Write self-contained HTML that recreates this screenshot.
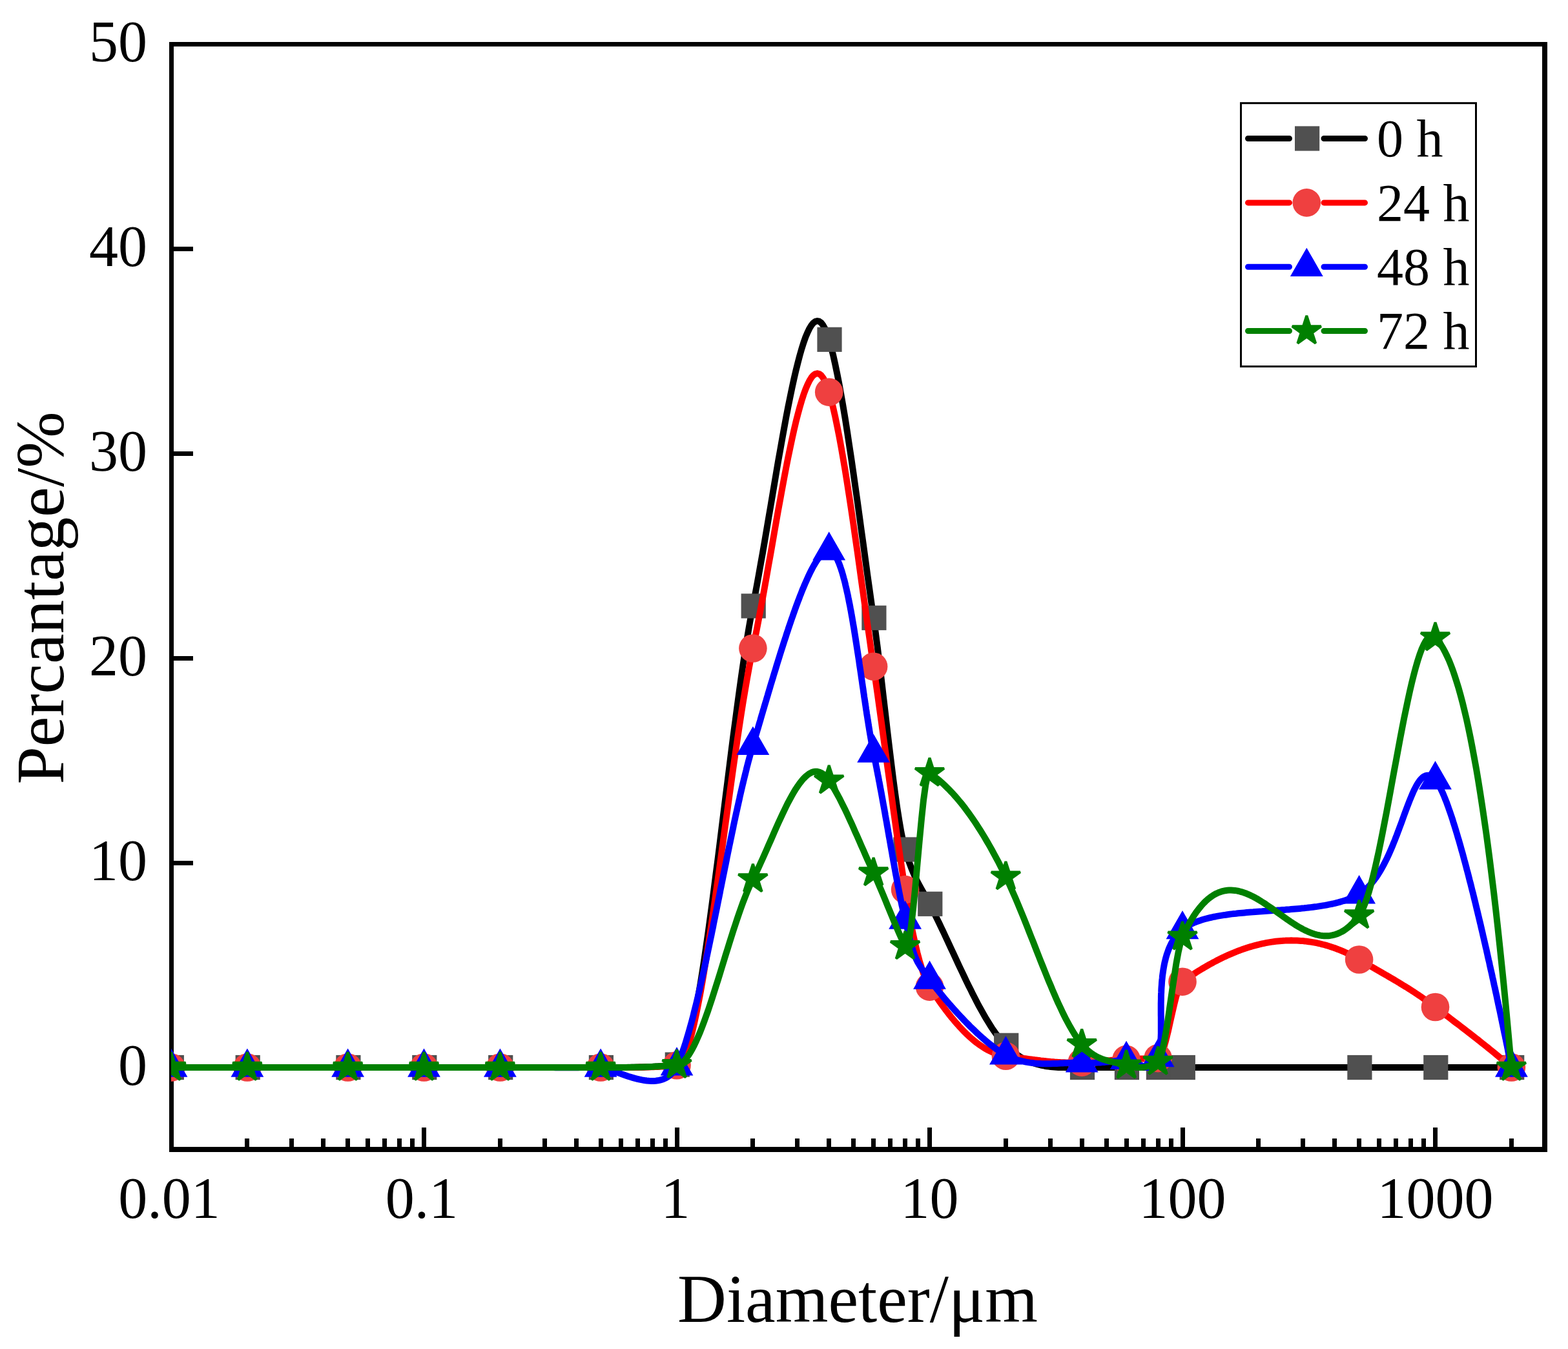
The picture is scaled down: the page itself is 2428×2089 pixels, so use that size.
<!DOCTYPE html>
<html><head><meta charset="utf-8"><title>Particle size distribution</title>
<style>
html,body{margin:0;padding:0;background:#fff;}
svg{display:block;}
text{font-family:"Liberation Serif","Times New Roman",serif;fill:#000;}
</style></head><body>
<svg width="2428" height="2089" viewBox="0 0 2428 2089">
<rect width="2428" height="2089" fill="#fff"/>
<defs><clipPath id="pa"><rect x="265" y="68.5" width="2127.0" height="1711.4"/></clipPath></defs>

<path d="M265.5 1336.1H299 M265.5 1019.2H299 M265.5 702.3H299 M265.5 385.4H299 M656.5 1779.9V1746 M1048.0 1779.9V1746 M1439.5 1779.9V1746 M1831.0 1779.9V1746 M2222.5 1779.9V1746 M382.9 1779.9V1763 M451.8 1779.9V1763 M500.7 1779.9V1763 M538.6 1779.9V1763 M569.6 1779.9V1763 M595.9 1779.9V1763 M618.6 1779.9V1763 M638.6 1779.9V1763 M774.4 1779.9V1763 M843.3 1779.9V1763 M892.2 1779.9V1763 M930.1 1779.9V1763 M961.1 1779.9V1763 M987.4 1779.9V1763 M1010.1 1779.9V1763 M1030.1 1779.9V1763 M1165.9 1779.9V1763 M1234.8 1779.9V1763 M1283.7 1779.9V1763 M1321.6 1779.9V1763 M1352.6 1779.9V1763 M1378.9 1779.9V1763 M1401.6 1779.9V1763 M1421.6 1779.9V1763 M1557.4 1779.9V1763 M1626.3 1779.9V1763 M1675.2 1779.9V1763 M1713.1 1779.9V1763 M1744.1 1779.9V1763 M1770.4 1779.9V1763 M1793.1 1779.9V1763 M1813.1 1779.9V1763 M1948.9 1779.9V1763 M2017.8 1779.9V1763 M2066.7 1779.9V1763 M2104.6 1779.9V1763 M2135.6 1779.9V1763 M2161.9 1779.9V1763 M2184.6 1779.9V1763 M2204.6 1779.9V1763 M2340.4 1779.9V1763" stroke="#000" stroke-width="7" fill="none" shape-rendering="crispEdges"/>
<path d="M262 65H2396V72H262ZM262 1776H2396V1784H262ZM262 65H269V1784H262ZM2388 65H2396V1784H2388Z" fill="#000" shape-rendering="crispEdges"/>
<g clip-path="url(#pa)">
<path d="M265.0 1653.0 L268.0 1653.0 271.0 1653.0 274.1 1653.0 277.1 1653.0 280.1 1653.0 283.1 1653.0 286.2 1653.0 289.2 1653.0 292.2 1653.0 295.2 1653.0 298.2 1653.0 301.3 1653.0 304.3 1653.0 307.3 1653.0 310.3 1653.0 313.4 1653.0 316.4 1653.0 319.4 1653.0 322.4 1653.0 325.4 1653.0 328.5 1653.0 331.5 1653.0 334.5 1653.0 337.5 1653.0 340.5 1653.0 343.6 1653.0 346.6 1653.0 349.6 1653.0 352.6 1653.0 355.7 1653.0 358.7 1653.0 361.7 1653.0 364.7 1653.0 367.7 1653.0 370.8 1653.0 373.8 1653.0 376.8 1653.0 379.8 1653.0 382.9 1653.0 385.9 1653.0 389.0 1653.0 392.0 1653.0 395.1 1653.0 398.1 1653.0 401.2 1653.0 404.2 1653.0 407.3 1653.0 410.3 1653.0 413.4 1653.0 416.5 1653.0 419.5 1653.0 422.6 1653.0 425.6 1653.0 428.7 1653.0 431.7 1653.0 434.8 1653.0 437.8 1653.0 440.9 1653.0 443.9 1653.0 447.0 1653.0 450.1 1653.0 453.1 1653.0 456.2 1653.0 459.2 1653.0 462.3 1653.0 465.3 1653.0 468.4 1653.0 471.4 1653.0 474.5 1653.0 477.6 1653.0 480.6 1653.0 483.7 1653.0 486.7 1653.0 489.8 1653.0 492.8 1653.0 495.9 1653.0 498.9 1653.0 502.0 1653.0 505.0 1653.0 508.1 1653.0 511.2 1653.0 514.2 1653.0 517.3 1653.0 520.3 1653.0 523.4 1653.0 526.4 1653.0 529.5 1653.0 532.5 1653.0 535.6 1653.0 538.6 1653.0 541.7 1653.0 544.7 1653.0 547.7 1653.0 550.7 1653.0 553.8 1653.0 556.8 1653.0 559.8 1653.0 562.8 1653.0 565.8 1653.0 568.9 1653.0 571.9 1653.0 574.9 1653.0 577.9 1653.0 581.0 1653.0 584.0 1653.0 587.0 1653.0 590.0 1653.0 593.0 1653.0 596.1 1653.0 599.1 1653.0 602.1 1653.0 605.1 1653.0 608.1 1653.0 611.2 1653.0 614.2 1653.0 617.2 1653.0 620.2 1653.0 623.3 1653.0 626.3 1653.0 629.3 1653.0 632.3 1653.0 635.3 1653.0 638.4 1653.0 641.4 1653.0 644.4 1653.0 647.4 1653.0 650.5 1653.0 653.5 1653.0 656.5 1653.0 659.5 1653.0 662.5 1653.0 665.6 1653.0 668.6 1653.0 671.6 1653.0 674.6 1653.0 677.7 1653.0 680.7 1653.0 683.7 1653.0 686.7 1653.0 689.7 1653.0 692.8 1653.0 695.8 1653.0 698.8 1653.0 701.8 1653.0 704.9 1653.0 707.9 1653.0 710.9 1653.0 713.9 1653.0 716.9 1653.0 720.0 1653.0 723.0 1653.0 726.0 1653.0 729.0 1653.0 732.0 1653.0 735.1 1653.0 738.1 1653.0 741.1 1653.0 744.1 1653.0 747.2 1653.0 750.2 1653.0 753.2 1653.0 756.2 1653.0 759.2 1653.0 762.3 1653.0 765.3 1653.0 768.3 1653.0 771.3 1653.0 774.4 1653.0 777.4 1653.0 780.5 1653.0 783.5 1653.0 786.6 1653.0 789.6 1653.0 792.7 1653.0 795.7 1653.0 798.8 1653.0 801.8 1653.0 804.9 1653.0 808.0 1653.0 811.0 1653.0 814.1 1653.0 817.1 1653.0 820.2 1653.0 823.2 1653.0 826.3 1653.0 829.3 1653.0 832.4 1653.0 835.4 1653.0 838.5 1653.0 841.6 1653.0 844.6 1653.0 847.7 1653.0 850.7 1653.0 853.8 1653.0 856.8 1653.0 859.9 1653.0 862.9 1653.0 866.0 1653.0 869.1 1653.0 872.1 1653.0 875.2 1653.0 878.2 1653.0 881.3 1653.0 884.3 1653.0 887.4 1653.0 890.4 1653.0 893.5 1653.0 896.5 1653.0 899.6 1653.0 902.7 1653.0 905.7 1653.0 908.8 1653.0 911.8 1653.0 914.9 1653.0 917.9 1653.0 921.0 1653.0 924.0 1653.0 927.1 1653.0 930.1 1653.0 933.2 1653.0 936.2 1653.0 939.2 1653.0 942.2 1653.0 945.3 1653.0 948.3 1653.0 951.3 1653.0 954.3 1653.0 957.3 1653.0 960.4 1653.0 963.4 1653.0 966.4 1653.0 969.4 1652.9 972.5 1652.9 975.5 1652.9 978.5 1652.8 981.5 1652.8 984.5 1652.7 987.6 1652.7 990.6 1652.6 993.6 1652.5 996.6 1652.4 999.6 1652.3 1002.7 1652.2 1005.7 1652.1 1008.7 1651.9 1011.7 1651.7 1014.8 1651.6 1017.8 1651.4 1020.8 1651.2 1023.8 1651.0 1026.8 1650.7 1029.9 1650.5 1032.9 1650.2 1035.9 1649.9 1038.9 1649.6 1042.0 1649.3 1045.0 1648.9 1048.0 1648.6 1051.0 1647.2 1054.0 1644.0 1057.1 1638.9 1060.1 1632.1 1063.1 1623.6 1066.1 1613.6 1069.2 1602.1 1072.2 1589.2 1075.2 1575.0 1078.2 1559.5 1081.2 1542.9 1084.3 1525.2 1087.3 1506.5 1090.3 1486.9 1093.3 1466.4 1096.4 1445.2 1099.4 1423.3 1102.4 1400.9 1105.4 1377.9 1108.4 1354.5 1111.5 1330.8 1114.5 1306.8 1117.5 1282.6 1120.5 1258.3 1123.5 1234.1 1126.6 1209.9 1129.6 1185.8 1132.6 1162.0 1135.6 1138.4 1138.7 1115.3 1141.7 1092.7 1144.7 1070.6 1147.7 1049.1 1150.7 1028.4 1153.8 1008.4 1156.8 989.4 1159.8 971.3 1162.8 954.3 1165.9 938.4 1168.9 922.8 1171.9 906.7 1174.9 890.2 1177.9 873.2 1181.0 856.0 1184.0 838.5 1187.0 820.8 1190.0 803.0 1193.1 785.0 1196.1 767.1 1199.1 749.3 1202.1 731.5 1205.1 713.9 1208.2 696.6 1211.2 679.6 1214.2 663.0 1217.2 646.7 1220.2 631.0 1223.3 615.8 1226.3 601.3 1229.3 587.4 1232.3 574.3 1235.4 562.0 1238.4 550.5 1241.4 540.0 1244.4 530.5 1247.4 522.0 1250.5 514.7 1253.5 508.5 1256.5 503.6 1259.5 500.0 1262.6 497.8 1265.6 497.0 1268.6 497.7 1271.6 499.9 1274.6 503.8 1277.7 509.4 1280.7 516.7 1283.7 525.8 1286.8 536.9 1290.0 549.4 1293.1 563.3 1296.2 578.3 1299.4 594.4 1302.5 611.6 1305.6 629.7 1308.8 648.7 1311.9 668.4 1315.0 688.9 1318.2 709.9 1321.3 731.5 1324.4 753.5 1327.6 775.9 1330.7 798.5 1333.8 821.3 1337.0 844.1 1340.1 867.0 1343.2 889.8 1346.4 912.4 1349.5 934.8 1352.6 956.8 1355.7 978.9 1358.8 1002.4 1361.8 1027.1 1364.9 1052.7 1367.9 1078.8 1371.0 1105.1 1374.0 1131.3 1377.1 1157.3 1380.2 1182.5 1383.2 1206.8 1386.3 1229.8 1389.3 1251.3 1392.4 1270.9 1395.4 1288.3 1398.5 1303.3 1401.6 1315.5 1404.7 1326.0 1407.9 1335.4 1411.0 1343.9 1414.2 1351.6 1417.4 1358.6 1420.5 1365.1 1423.7 1371.1 1426.9 1376.9 1430.0 1382.5 1433.2 1388.1 1436.3 1393.8 1439.5 1399.8 1442.5 1405.7 1445.5 1411.7 1448.6 1417.9 1451.6 1424.1 1454.6 1430.3 1457.6 1436.7 1460.7 1443.0 1463.7 1449.5 1466.7 1455.9 1469.7 1462.4 1472.7 1468.9 1475.8 1475.4 1478.8 1481.9 1481.8 1488.4 1484.8 1494.8 1487.9 1501.3 1490.9 1507.7 1493.9 1514.0 1496.9 1520.3 1499.9 1526.5 1503.0 1532.6 1506.0 1538.7 1509.0 1544.6 1512.0 1550.4 1515.0 1556.2 1518.1 1561.7 1521.1 1567.2 1524.1 1572.5 1527.1 1577.7 1530.2 1582.7 1533.2 1587.5 1536.2 1592.2 1539.2 1596.6 1542.2 1600.9 1545.3 1604.9 1548.3 1608.7 1551.3 1612.3 1554.3 1615.7 1557.4 1618.8 1560.4 1621.7 1563.4 1624.4 1566.4 1627.0 1569.4 1629.4 1572.5 1631.6 1575.5 1633.8 1578.5 1635.7 1581.5 1637.6 1584.6 1639.3 1587.6 1640.9 1590.6 1642.3 1593.6 1643.6 1596.6 1644.9 1599.7 1646.0 1602.7 1647.0 1605.7 1647.9 1608.7 1648.7 1611.7 1649.5 1614.8 1650.1 1617.8 1650.7 1620.8 1651.2 1623.8 1651.6 1626.9 1652.0 1629.9 1652.3 1632.9 1652.5 1635.9 1652.7 1638.9 1652.9 1642.0 1653.0 1645.0 1653.1 1648.0 1653.1 1651.0 1653.2 1654.1 1653.2 1657.1 1653.1 1660.1 1653.1 1663.1 1653.1 1666.1 1653.1 1669.2 1653.0 1672.2 1653.0 1675.2 1653.0 1678.3 1653.0 1681.5 1653.0 1684.6 1653.0 1687.7 1653.0 1690.9 1653.0 1694.0 1653.0 1697.1 1653.0 1700.3 1653.0 1703.4 1653.0 1706.5 1653.0 1709.7 1653.0 1712.8 1653.0 1715.9 1653.0 1719.1 1653.0 1722.2 1653.0 1725.3 1653.0 1728.5 1653.0 1731.6 1653.0 1734.7 1653.0 1737.9 1653.0 1741.0 1653.0 1744.1 1653.0 1747.2 1653.0 1750.3 1653.0 1753.3 1653.0 1756.4 1653.0 1759.4 1653.0 1762.5 1653.0 1765.5 1653.0 1768.6 1653.0 1771.7 1653.0 1774.7 1653.0 1777.8 1653.0 1780.8 1653.0 1783.9 1653.0 1786.9 1653.0 1790.0 1653.0 1793.1 1653.0 1796.2 1653.0 1799.4 1653.0 1802.5 1653.0 1805.7 1653.0 1808.9 1653.0 1812.0 1653.0 1815.2 1653.0 1818.4 1653.0 1821.5 1653.0 1824.7 1653.0 1827.8 1653.0 1831.0 1653.0 1834.0 1653.0 1837.0 1653.0 1840.0 1653.0 1843.0 1653.0 1846.0 1653.0 1849.0 1653.0 1852.0 1653.0 1855.1 1653.0 1858.1 1653.0 1861.1 1653.0 1864.1 1653.0 1867.1 1653.0 1870.1 1653.0 1873.1 1653.0 1876.1 1653.0 1879.1 1653.0 1882.1 1653.0 1885.1 1653.0 1888.1 1653.0 1891.1 1653.0 1894.1 1653.0 1897.2 1653.0 1900.2 1653.0 1903.2 1653.0 1906.2 1653.0 1909.2 1653.0 1912.2 1653.0 1915.2 1653.0 1918.2 1653.0 1921.2 1653.0 1924.2 1653.0 1927.2 1653.0 1930.2 1653.0 1933.2 1653.0 1936.2 1653.0 1939.3 1653.0 1942.3 1653.0 1945.3 1653.0 1948.3 1653.0 1951.3 1653.0 1954.3 1653.0 1957.3 1653.0 1960.3 1653.0 1963.3 1653.0 1966.3 1653.0 1969.3 1653.0 1972.3 1653.0 1975.3 1653.0 1978.3 1653.0 1981.4 1653.0 1984.4 1653.0 1987.4 1653.0 1990.4 1653.0 1993.4 1653.0 1996.4 1653.0 1999.4 1653.0 2002.4 1653.0 2005.4 1653.0 2008.4 1653.0 2011.4 1653.0 2014.4 1653.0 2017.4 1653.0 2020.4 1653.0 2023.5 1653.0 2026.5 1653.0 2029.5 1653.0 2032.5 1653.0 2035.5 1653.0 2038.5 1653.0 2041.5 1653.0 2044.5 1653.0 2047.5 1653.0 2050.5 1653.0 2053.5 1653.0 2056.5 1653.0 2059.5 1653.0 2062.5 1653.0 2065.6 1653.0 2068.6 1653.0 2071.6 1653.0 2074.6 1653.0 2077.6 1653.0 2080.6 1653.0 2083.6 1653.0 2086.6 1653.0 2089.6 1653.0 2092.6 1653.0 2095.6 1653.0 2098.6 1653.0 2101.6 1653.0 2104.6 1653.0 2107.7 1653.0 2110.7 1653.0 2113.7 1653.0 2116.7 1653.0 2119.8 1653.0 2122.8 1653.0 2125.8 1653.0 2128.8 1653.0 2131.8 1653.0 2134.9 1653.0 2137.9 1653.0 2140.9 1653.0 2143.9 1653.0 2147.0 1653.0 2150.0 1653.0 2153.0 1653.0 2156.0 1653.0 2159.0 1653.0 2162.1 1653.0 2165.1 1653.0 2168.1 1653.0 2171.1 1653.0 2174.1 1653.0 2177.2 1653.0 2180.2 1653.0 2183.2 1653.0 2186.2 1653.0 2189.3 1653.0 2192.3 1653.0 2195.3 1653.0 2198.3 1653.0 2201.3 1653.0 2204.4 1653.0 2207.4 1653.0 2210.4 1653.0 2213.4 1653.0 2216.5 1653.0 2219.5 1653.0 2222.5 1653.0 2225.5 1653.0 2228.5 1653.0 2231.6 1653.0 2234.6 1653.0 2237.6 1653.0 2240.6 1653.0 2243.7 1653.0 2246.7 1653.0 2249.7 1653.0 2252.7 1653.0 2255.7 1653.0 2258.8 1653.0 2261.8 1653.0 2264.8 1653.0 2267.8 1653.0 2270.9 1653.0 2273.9 1653.0 2276.9 1653.0 2279.9 1653.0 2282.9 1653.0 2286.0 1653.0 2289.0 1653.0 2292.0 1653.0 2295.0 1653.0 2298.0 1653.0 2301.1 1653.0 2304.1 1653.0 2307.1 1653.0 2310.1 1653.0 2313.2 1653.0 2316.2 1653.0 2319.2 1653.0 2322.2 1653.0 2325.2 1653.0 2328.3 1653.0 2331.3 1653.0 2334.3 1653.0 2337.3 1653.0 2340.4 1653.0" fill="none" stroke="#000000" stroke-width="10" stroke-linejoin="round" stroke-linecap="round"/>
<g fill="#505050"><rect x="246.7" y="1633.9" width="38.2" height="38.2"/><rect x="364.6" y="1633.9" width="38.2" height="38.2"/><rect x="520.3" y="1633.9" width="38.2" height="38.2"/><rect x="638.2" y="1633.9" width="38.2" height="38.2"/><rect x="756.1" y="1633.9" width="38.2" height="38.2"/><rect x="911.8" y="1633.9" width="38.2" height="38.2"/><rect x="1029.7" y="1629.5" width="38.2" height="38.2"/><rect x="1147.6" y="919.3" width="38.2" height="38.2"/><rect x="1265.4" y="506.7" width="38.2" height="38.2"/><rect x="1334.3" y="937.7" width="38.2" height="38.2"/><rect x="1383.3" y="1296.4" width="38.2" height="38.2"/><rect x="1421.2" y="1380.7" width="38.2" height="38.2"/><rect x="1539.1" y="1599.7" width="38.2" height="38.2"/><rect x="1656.9" y="1633.9" width="38.2" height="38.2"/><rect x="1725.8" y="1633.9" width="38.2" height="38.2"/><rect x="1774.8" y="1633.9" width="38.2" height="38.2"/><rect x="1812.7" y="1633.9" width="38.2" height="38.2"/><rect x="2086.3" y="1633.9" width="38.2" height="38.2"/><rect x="2204.2" y="1633.9" width="38.2" height="38.2"/><rect x="2322.1" y="1633.9" width="38.2" height="38.2"/></g>
<path d="M265.0 1653.0 L268.0 1653.0 271.0 1653.0 274.1 1653.0 277.1 1653.0 280.1 1653.0 283.1 1653.0 286.2 1653.0 289.2 1653.0 292.2 1653.0 295.2 1653.0 298.2 1653.0 301.3 1653.0 304.3 1653.0 307.3 1653.0 310.3 1653.0 313.4 1653.0 316.4 1653.0 319.4 1653.0 322.4 1653.0 325.4 1653.0 328.5 1653.0 331.5 1653.0 334.5 1653.0 337.5 1653.0 340.5 1653.0 343.6 1653.0 346.6 1653.0 349.6 1653.0 352.6 1653.0 355.7 1653.0 358.7 1653.0 361.7 1653.0 364.7 1653.0 367.7 1653.0 370.8 1653.0 373.8 1653.0 376.8 1653.0 379.8 1653.0 382.9 1653.0 385.9 1653.0 389.0 1653.0 392.0 1653.0 395.1 1653.0 398.1 1653.0 401.2 1653.0 404.2 1653.0 407.3 1653.0 410.3 1653.0 413.4 1653.0 416.5 1653.0 419.5 1653.0 422.6 1653.0 425.6 1653.0 428.7 1653.0 431.7 1653.0 434.8 1653.0 437.8 1653.0 440.9 1653.0 443.9 1653.0 447.0 1653.0 450.1 1653.0 453.1 1653.0 456.2 1653.0 459.2 1653.0 462.3 1653.0 465.3 1653.0 468.4 1653.0 471.4 1653.0 474.5 1653.0 477.6 1653.0 480.6 1653.0 483.7 1653.0 486.7 1653.0 489.8 1653.0 492.8 1653.0 495.9 1653.0 498.9 1653.0 502.0 1653.0 505.0 1653.0 508.1 1653.0 511.2 1653.0 514.2 1653.0 517.3 1653.0 520.3 1653.0 523.4 1653.0 526.4 1653.0 529.5 1653.0 532.5 1653.0 535.6 1653.0 538.6 1653.0 541.7 1653.0 544.7 1653.0 547.7 1653.0 550.7 1653.0 553.8 1653.0 556.8 1653.0 559.8 1653.0 562.8 1653.0 565.8 1653.0 568.9 1653.0 571.9 1653.0 574.9 1653.0 577.9 1653.0 581.0 1653.0 584.0 1653.0 587.0 1653.0 590.0 1653.0 593.0 1653.0 596.1 1653.0 599.1 1653.0 602.1 1653.0 605.1 1653.0 608.1 1653.0 611.2 1653.0 614.2 1653.0 617.2 1653.0 620.2 1653.0 623.3 1653.0 626.3 1653.0 629.3 1653.0 632.3 1653.0 635.3 1653.0 638.4 1653.0 641.4 1653.0 644.4 1653.0 647.4 1653.0 650.5 1653.0 653.5 1653.0 656.5 1653.0 659.5 1653.0 662.5 1653.0 665.6 1653.0 668.6 1653.0 671.6 1653.0 674.6 1653.0 677.7 1653.0 680.7 1653.0 683.7 1653.0 686.7 1653.0 689.7 1653.0 692.8 1653.0 695.8 1653.0 698.8 1653.0 701.8 1653.0 704.9 1653.0 707.9 1653.0 710.9 1653.0 713.9 1653.0 716.9 1653.0 720.0 1653.0 723.0 1653.0 726.0 1653.0 729.0 1653.0 732.0 1653.0 735.1 1653.0 738.1 1653.0 741.1 1653.0 744.1 1653.0 747.2 1653.0 750.2 1653.0 753.2 1653.0 756.2 1653.0 759.2 1653.0 762.3 1653.0 765.3 1653.0 768.3 1653.0 771.3 1653.0 774.4 1653.0 777.4 1653.0 780.5 1653.0 783.5 1653.0 786.6 1653.0 789.6 1653.0 792.7 1653.0 795.7 1653.0 798.8 1653.0 801.8 1653.0 804.9 1653.0 808.0 1653.0 811.0 1653.0 814.1 1653.0 817.1 1653.0 820.2 1653.0 823.2 1653.0 826.3 1653.0 829.3 1653.0 832.4 1653.0 835.4 1653.0 838.5 1653.0 841.6 1653.0 844.6 1653.0 847.7 1653.0 850.7 1653.0 853.8 1653.0 856.8 1653.0 859.9 1653.0 862.9 1653.0 866.0 1653.0 869.1 1653.0 872.1 1653.0 875.2 1653.0 878.2 1653.0 881.3 1653.0 884.3 1653.0 887.4 1653.0 890.4 1653.0 893.5 1653.0 896.5 1653.0 899.6 1653.0 902.7 1653.0 905.7 1653.0 908.8 1653.0 911.8 1653.0 914.9 1653.0 917.9 1653.0 921.0 1653.0 924.0 1653.0 927.1 1653.0 930.1 1653.0 933.2 1653.0 936.2 1653.0 939.2 1653.0 942.2 1653.0 945.3 1653.0 948.3 1653.0 951.3 1653.0 954.3 1653.0 957.3 1653.0 960.4 1653.0 963.4 1653.0 966.4 1653.0 969.4 1653.0 972.5 1653.0 975.5 1653.0 978.5 1653.0 981.5 1652.9 984.5 1652.9 987.6 1652.8 990.6 1652.8 993.6 1652.7 996.6 1652.7 999.6 1652.6 1002.7 1652.5 1005.7 1652.4 1008.7 1652.3 1011.7 1652.2 1014.8 1652.1 1017.8 1651.9 1020.8 1651.8 1023.8 1651.6 1026.8 1651.5 1029.9 1651.3 1032.9 1651.1 1035.9 1650.9 1038.9 1650.6 1042.0 1650.4 1045.0 1650.1 1048.0 1649.8 1051.0 1648.7 1054.0 1645.8 1057.1 1641.2 1060.1 1635.2 1063.1 1627.6 1066.1 1618.6 1069.2 1608.2 1072.2 1596.6 1075.2 1583.7 1078.2 1569.8 1081.2 1554.8 1084.3 1538.8 1087.3 1521.9 1090.3 1504.1 1093.3 1485.6 1096.4 1466.4 1099.4 1446.6 1102.4 1426.3 1105.4 1405.5 1108.4 1384.3 1111.5 1362.7 1114.5 1341.0 1117.5 1319.0 1120.5 1297.0 1123.5 1274.9 1126.6 1252.8 1129.6 1230.9 1132.6 1209.2 1135.6 1187.8 1138.7 1166.6 1141.7 1145.9 1144.7 1125.7 1147.7 1106.1 1150.7 1087.0 1153.8 1068.7 1156.8 1051.2 1159.8 1034.5 1162.8 1018.7 1165.9 1004.0 1168.9 989.5 1171.9 974.4 1174.9 958.8 1177.9 942.8 1181.0 926.4 1184.0 909.7 1187.0 892.8 1190.0 875.7 1193.1 858.5 1196.1 841.3 1199.1 824.0 1202.1 806.9 1205.1 789.9 1208.2 773.1 1211.2 756.5 1214.2 740.4 1217.2 724.6 1220.2 709.2 1223.3 694.4 1226.3 680.2 1229.3 666.7 1232.3 653.8 1235.4 641.8 1238.4 630.6 1241.4 620.3 1244.4 610.9 1247.4 602.7 1250.5 595.5 1253.5 589.4 1256.5 584.6 1259.5 581.1 1262.6 579.0 1265.6 578.3 1268.6 579.0 1271.6 581.3 1274.6 585.2 1277.7 590.8 1280.7 598.1 1283.7 607.2 1286.8 618.3 1290.0 630.8 1293.1 644.5 1296.2 659.4 1299.4 675.4 1302.5 692.3 1305.6 710.2 1308.8 729.0 1311.9 748.5 1315.0 768.6 1318.2 789.4 1321.3 810.6 1324.4 832.3 1327.6 854.3 1330.7 876.5 1333.8 899.0 1337.0 921.5 1340.1 943.9 1343.2 966.3 1346.4 988.6 1349.5 1010.6 1352.6 1032.2 1355.7 1053.3 1358.8 1074.8 1361.8 1096.6 1364.9 1118.6 1367.9 1140.9 1371.0 1163.2 1374.0 1185.5 1377.1 1207.9 1380.2 1230.1 1383.2 1252.2 1386.3 1274.0 1389.3 1295.6 1392.4 1316.8 1395.4 1337.6 1398.5 1357.9 1401.6 1377.6 1404.7 1397.1 1407.9 1415.3 1411.0 1432.3 1414.2 1448.0 1417.4 1462.5 1420.5 1475.7 1423.7 1487.6 1426.9 1498.3 1430.0 1507.6 1433.2 1515.8 1436.3 1522.6 1439.5 1528.1 1442.5 1532.8 1445.5 1537.4 1448.6 1541.9 1451.6 1546.3 1454.6 1550.6 1457.6 1554.8 1460.7 1559.0 1463.7 1563.1 1466.7 1567.0 1469.7 1570.9 1472.7 1574.7 1475.8 1578.4 1478.8 1582.0 1481.8 1585.4 1484.8 1588.8 1487.9 1592.1 1490.9 1595.3 1493.9 1598.4 1496.9 1601.3 1499.9 1604.2 1503.0 1606.9 1506.0 1609.6 1509.0 1612.1 1512.0 1614.5 1515.0 1616.7 1518.1 1618.9 1521.1 1620.9 1524.1 1622.9 1527.1 1624.6 1530.2 1626.3 1533.2 1627.8 1536.2 1629.2 1539.2 1630.5 1542.2 1631.6 1545.3 1632.6 1548.3 1633.5 1551.3 1634.2 1554.3 1634.8 1557.4 1635.3 1560.4 1635.6 1563.4 1636.0 1566.4 1636.4 1569.4 1636.8 1572.5 1637.2 1575.5 1637.6 1578.5 1638.0 1581.5 1638.4 1584.6 1638.9 1587.6 1639.3 1590.6 1639.7 1593.6 1640.1 1596.6 1640.5 1599.7 1640.9 1602.7 1641.3 1605.7 1641.6 1608.7 1642.0 1611.7 1642.4 1614.8 1642.7 1617.8 1643.1 1620.8 1643.4 1623.8 1643.7 1626.9 1644.0 1629.9 1644.2 1632.9 1644.5 1635.9 1644.7 1638.9 1644.9 1642.0 1645.1 1645.0 1645.2 1648.0 1645.3 1651.0 1645.4 1654.1 1645.5 1657.1 1645.6 1660.1 1645.6 1663.1 1645.5 1666.1 1645.5 1669.2 1645.4 1672.2 1645.2 1675.2 1645.1 1678.3 1644.9 1681.5 1644.7 1684.6 1644.5 1687.7 1644.3 1690.9 1644.1 1694.0 1643.8 1697.1 1643.6 1700.3 1643.4 1703.4 1643.2 1706.5 1643.0 1709.7 1642.7 1712.8 1642.5 1715.9 1642.3 1719.1 1642.1 1722.2 1641.8 1725.3 1641.6 1728.5 1641.4 1731.6 1641.2 1734.7 1641.0 1737.9 1640.8 1741.0 1640.5 1744.1 1640.3 1747.2 1640.1 1750.3 1640.0 1753.3 1639.9 1756.4 1639.8 1759.4 1639.7 1762.5 1639.6 1765.5 1639.6 1768.6 1639.5 1771.7 1639.5 1774.7 1639.5 1777.8 1639.4 1780.8 1639.3 1783.9 1639.2 1786.9 1639.1 1790.0 1638.9 1793.1 1638.7 1796.2 1636.4 1799.4 1630.3 1802.5 1621.1 1805.7 1609.6 1808.9 1596.5 1812.0 1582.5 1815.2 1568.4 1818.4 1554.7 1821.5 1542.4 1824.7 1532.1 1827.8 1524.4 1831.0 1520.2 1834.0 1518.1 1837.0 1516.0 1840.0 1514.0 1843.0 1511.9 1846.0 1509.9 1849.0 1508.0 1852.0 1506.0 1855.1 1504.1 1858.1 1502.3 1861.1 1500.4 1864.1 1498.6 1867.1 1496.9 1870.1 1495.1 1873.1 1493.4 1876.1 1491.8 1879.1 1490.1 1882.1 1488.6 1885.1 1487.0 1888.1 1485.5 1891.1 1484.0 1894.1 1482.5 1897.2 1481.1 1900.2 1479.7 1903.2 1478.4 1906.2 1477.1 1909.2 1475.8 1912.2 1474.6 1915.2 1473.4 1918.2 1472.2 1921.2 1471.1 1924.2 1470.0 1927.2 1469.0 1930.2 1468.0 1933.2 1467.0 1936.2 1466.1 1939.3 1465.2 1942.3 1464.4 1945.3 1463.6 1948.3 1462.8 1951.3 1462.1 1954.3 1461.4 1957.3 1460.8 1960.3 1460.2 1963.3 1459.6 1966.3 1459.1 1969.3 1458.6 1972.3 1458.2 1975.3 1457.8 1978.3 1457.5 1981.4 1457.2 1984.4 1456.9 1987.4 1456.7 1990.4 1456.6 1993.4 1456.4 1996.4 1456.4 1999.4 1456.3 2002.4 1456.4 2005.4 1456.4 2008.4 1456.5 2011.4 1456.7 2014.4 1456.9 2017.4 1457.1 2020.4 1457.4 2023.5 1457.8 2026.5 1458.2 2029.5 1458.6 2032.5 1459.1 2035.5 1459.6 2038.5 1460.2 2041.5 1460.8 2044.5 1461.5 2047.5 1462.3 2050.5 1463.0 2053.5 1463.9 2056.5 1464.8 2059.5 1465.7 2062.5 1466.7 2065.6 1467.7 2068.6 1468.8 2071.6 1470.0 2074.6 1471.1 2077.6 1472.4 2080.6 1473.7 2083.6 1475.0 2086.6 1476.4 2089.6 1477.9 2092.6 1479.4 2095.6 1481.0 2098.6 1482.6 2101.6 1484.3 2104.6 1486.0 2107.7 1487.8 2110.7 1489.5 2113.7 1491.3 2116.7 1493.0 2119.8 1494.7 2122.8 1496.5 2125.8 1498.2 2128.8 1499.9 2131.8 1501.6 2134.9 1503.4 2137.9 1505.1 2140.9 1506.9 2143.9 1508.6 2147.0 1510.3 2150.0 1512.1 2153.0 1513.9 2156.0 1515.6 2159.0 1517.4 2162.1 1519.2 2165.1 1521.0 2168.1 1522.9 2171.1 1524.7 2174.1 1526.6 2177.2 1528.4 2180.2 1530.3 2183.2 1532.2 2186.2 1534.2 2189.3 1536.1 2192.3 1538.1 2195.3 1540.1 2198.3 1542.2 2201.3 1544.2 2204.4 1546.3 2207.4 1548.4 2210.4 1550.6 2213.4 1552.8 2216.5 1555.0 2219.5 1557.2 2222.5 1559.5 2225.5 1561.8 2228.5 1564.1 2231.6 1566.4 2234.6 1568.7 2237.6 1571.0 2240.6 1573.3 2243.7 1575.6 2246.7 1577.9 2249.7 1580.2 2252.7 1582.5 2255.7 1584.8 2258.8 1587.1 2261.8 1589.4 2264.8 1591.7 2267.8 1594.0 2270.9 1596.4 2273.9 1598.7 2276.9 1601.0 2279.9 1603.4 2282.9 1605.7 2286.0 1608.1 2289.0 1610.5 2292.0 1612.9 2295.0 1615.3 2298.0 1617.7 2301.1 1620.1 2304.1 1622.5 2307.1 1625.0 2310.1 1627.4 2313.2 1629.9 2316.2 1632.4 2319.2 1634.9 2322.2 1637.4 2325.2 1640.0 2328.3 1642.6 2331.3 1645.1 2334.3 1647.7 2337.3 1650.4 2340.4 1653.0" fill="none" stroke="#FF0000" stroke-width="10" stroke-linejoin="round" stroke-linecap="round"/>
<g fill="#EF4040"><circle cx="265.0" cy="1653.0" r="21.8"/><circle cx="382.9" cy="1653.0" r="21.8"/><circle cx="538.6" cy="1653.0" r="21.8"/><circle cx="656.5" cy="1653.0" r="21.8"/><circle cx="774.4" cy="1653.0" r="21.8"/><circle cx="930.1" cy="1653.0" r="21.8"/><circle cx="1048.0" cy="1649.8" r="21.8"/><circle cx="1165.9" cy="1004.0" r="21.8"/><circle cx="1283.7" cy="607.2" r="21.8"/><circle cx="1352.6" cy="1032.2" r="21.8"/><circle cx="1401.6" cy="1377.6" r="21.8"/><circle cx="1439.5" cy="1528.1" r="21.8"/><circle cx="1557.4" cy="1635.3" r="21.8"/><circle cx="1675.2" cy="1645.1" r="21.8"/><circle cx="1744.1" cy="1640.3" r="21.8"/><circle cx="1793.1" cy="1638.7" r="21.8"/><circle cx="1831.0" cy="1520.2" r="21.8"/><circle cx="2104.6" cy="1486.0" r="21.8"/><circle cx="2222.5" cy="1559.5" r="21.8"/><circle cx="2340.4" cy="1653.0" r="21.8"/></g>
<path d="M265.0 1653.0 L265.1 1653.0 265.6 1653.0 266.2 1653.0 267.2 1653.0 268.4 1653.0 269.8 1653.0 271.4 1653.0 273.3 1653.0 275.3 1653.0 277.6 1653.0 280.0 1653.0 282.6 1653.0 285.4 1653.0 288.4 1653.0 291.4 1653.0 294.7 1653.0 298.0 1653.0 301.4 1653.0 305.0 1653.0 308.7 1653.0 312.4 1653.0 316.2 1653.0 320.1 1653.0 324.0 1653.0 328.0 1653.0 332.0 1653.0 336.1 1653.0 340.1 1653.0 344.2 1653.0 348.2 1653.0 352.3 1653.0 356.3 1653.0 360.3 1653.0 364.2 1653.0 368.1 1653.0 371.9 1653.0 375.6 1653.0 379.3 1653.0 382.9 1653.0 385.6 1653.0 388.3 1653.0 391.1 1653.0 393.9 1653.0 396.8 1653.0 399.7 1653.0 402.6 1653.0 405.6 1653.0 408.6 1653.0 411.6 1653.0 414.6 1653.0 417.7 1653.0 420.8 1653.0 423.9 1653.0 427.1 1653.0 430.2 1653.0 433.4 1653.0 436.6 1653.0 439.8 1653.0 443.0 1653.0 446.2 1653.0 449.4 1653.0 452.7 1653.0 455.9 1653.0 459.1 1653.0 462.4 1653.0 465.6 1653.0 468.8 1653.0 472.1 1653.0 475.3 1653.0 478.5 1653.0 481.7 1653.0 484.9 1653.0 488.1 1653.0 491.3 1653.0 494.4 1653.0 497.6 1653.0 500.7 1653.0 503.8 1653.0 506.9 1653.0 509.9 1653.0 512.9 1653.0 515.9 1653.0 518.9 1653.0 521.8 1653.0 524.7 1653.0 527.6 1653.0 530.4 1653.0 533.2 1653.0 535.9 1653.0 538.6 1653.0 542.1 1653.0 545.6 1653.0 549.0 1653.0 552.3 1653.0 555.6 1653.0 558.9 1653.0 562.1 1653.0 565.3 1653.0 568.4 1653.0 571.6 1653.0 574.6 1653.0 577.7 1653.0 580.7 1653.0 583.8 1653.0 586.7 1653.0 589.7 1653.0 592.6 1653.0 595.6 1653.0 598.5 1653.0 601.4 1653.0 604.3 1653.0 607.2 1653.0 610.0 1653.0 612.9 1653.0 615.8 1653.0 618.6 1653.0 621.5 1653.0 624.3 1653.0 627.2 1653.0 630.1 1653.0 633.0 1653.0 635.8 1653.0 638.7 1653.0 641.7 1653.0 644.6 1653.0 647.5 1653.0 650.5 1653.0 653.5 1653.0 656.5 1653.0 659.5 1653.0 662.5 1653.0 665.5 1653.0 668.4 1653.0 671.3 1653.0 674.3 1653.0 677.2 1653.0 680.0 1653.0 682.9 1653.0 685.8 1653.0 688.7 1653.0 691.5 1653.0 694.4 1653.0 697.2 1653.0 700.1 1653.0 703.0 1653.0 705.8 1653.0 708.7 1653.0 711.6 1653.0 714.5 1653.0 717.4 1653.0 720.4 1653.0 723.3 1653.0 726.3 1653.0 729.2 1653.0 732.3 1653.0 735.3 1653.0 738.4 1653.0 741.4 1653.0 744.6 1653.0 747.7 1653.0 750.9 1653.0 754.1 1653.0 757.4 1653.0 760.7 1653.0 764.0 1653.0 767.4 1653.0 770.9 1653.0 774.4 1653.0 777.1 1653.0 779.8 1653.0 782.6 1653.0 785.4 1653.0 788.3 1653.0 791.2 1653.0 794.1 1653.0 797.1 1653.0 800.1 1653.0 803.1 1653.0 806.1 1653.0 809.2 1653.0 812.3 1653.1 815.4 1653.1 818.6 1653.1 821.7 1653.1 824.9 1653.1 828.1 1653.1 831.3 1653.1 834.5 1653.1 837.7 1653.1 840.9 1653.1 844.2 1653.1 847.4 1653.1 850.6 1653.1 853.9 1653.1 857.1 1653.1 860.3 1653.2 863.6 1653.2 866.8 1653.2 870.0 1653.2 873.2 1653.2 876.4 1653.2 879.6 1653.2 882.8 1653.2 885.9 1653.2 889.1 1653.2 892.2 1653.2 895.3 1653.2 898.4 1653.1 901.4 1653.1 904.4 1653.1 907.4 1653.1 910.4 1653.1 913.3 1653.1 916.2 1653.1 919.1 1653.1 921.9 1653.1 924.7 1653.0 927.4 1653.0 930.1 1653.0 932.0 1653.2 934.0 1653.6 936.2 1654.1 938.6 1654.8 941.1 1655.6 943.8 1656.5 946.6 1657.4 949.5 1658.5 952.5 1659.6 955.7 1660.7 958.9 1661.9 962.2 1663.1 965.6 1664.3 969.1 1665.5 972.6 1666.7 976.1 1667.8 979.7 1668.9 983.3 1669.9 987.0 1670.8 990.6 1671.7 994.2 1672.4 997.9 1673.0 1001.5 1673.5 1005.0 1673.8 1008.6 1674.0 1012.0 1673.9 1015.4 1673.7 1018.8 1673.3 1022.0 1672.6 1025.2 1671.7 1028.3 1670.6 1031.2 1669.2 1034.1 1667.5 1036.8 1665.5 1039.3 1663.3 1041.8 1660.7 1044.0 1657.7 1046.1 1654.4 1048.0 1650.8 1048.7 1649.3 1049.4 1647.8 1050.1 1646.2 1050.8 1644.6 1051.5 1642.9 1052.2 1641.3 1052.9 1639.5 1053.5 1637.8 1054.2 1636.0 1054.9 1634.1 1055.6 1632.3 1056.3 1630.3 1057.0 1628.4 1057.7 1626.4 1058.4 1624.4 1059.1 1622.4 1059.8 1620.3 1060.5 1618.1 1061.2 1616.0 1061.9 1613.8 1062.6 1611.6 1063.3 1609.3 1063.9 1607.1 1064.6 1604.7 1065.3 1602.4 1066.0 1600.0 1066.7 1597.6 1067.4 1595.2 1068.1 1592.7 1068.8 1590.2 1069.5 1587.7 1070.2 1585.2 1070.9 1582.6 1071.6 1580.0 1072.3 1577.4 1073.0 1574.7 1073.7 1572.0 1074.3 1569.3 1075.0 1566.6 1075.7 1563.8 1076.4 1561.0 1077.1 1558.2 1077.8 1555.4 1078.5 1552.6 1079.2 1549.7 1079.9 1546.8 1080.6 1543.9 1081.3 1540.9 1082.0 1538.0 1082.7 1535.0 1083.4 1532.0 1084.0 1529.0 1084.7 1525.9 1085.4 1522.9 1086.1 1519.8 1086.8 1516.7 1087.5 1513.6 1088.2 1510.5 1088.9 1507.3 1089.6 1504.2 1090.3 1501.0 1091.0 1497.8 1091.7 1494.6 1092.4 1491.4 1093.1 1488.2 1093.8 1484.9 1094.4 1481.6 1095.1 1478.4 1095.8 1475.1 1096.5 1471.8 1097.2 1468.5 1097.9 1465.2 1098.6 1461.8 1099.3 1458.5 1100.0 1455.1 1100.7 1451.8 1101.4 1448.4 1102.1 1445.0 1102.8 1441.6 1103.5 1438.3 1104.2 1434.9 1104.8 1431.4 1105.5 1428.0 1106.2 1424.6 1106.9 1421.2 1107.6 1417.8 1108.3 1414.3 1109.0 1410.9 1109.7 1407.4 1110.4 1404.0 1111.1 1400.5 1111.8 1397.1 1112.5 1393.6 1113.2 1390.2 1113.9 1386.7 1114.6 1383.3 1115.2 1379.8 1115.9 1376.3 1116.6 1372.9 1117.3 1369.4 1118.0 1366.0 1118.7 1362.5 1119.4 1359.1 1120.1 1355.6 1120.8 1352.2 1121.5 1348.7 1122.2 1345.3 1122.9 1341.8 1123.6 1338.4 1124.3 1335.0 1125.0 1331.5 1125.6 1328.1 1126.3 1324.7 1127.0 1321.3 1127.7 1317.9 1128.4 1314.5 1129.1 1311.1 1129.8 1307.8 1130.5 1304.4 1131.2 1301.0 1131.9 1297.7 1132.6 1294.4 1133.3 1291.0 1134.0 1287.7 1134.7 1284.4 1135.4 1281.1 1136.0 1277.8 1136.7 1274.6 1137.4 1271.3 1138.1 1268.1 1138.8 1264.8 1139.5 1261.6 1140.2 1258.4 1140.9 1255.3 1141.6 1252.1 1142.3 1248.9 1143.0 1245.8 1143.7 1242.7 1144.4 1239.6 1145.1 1236.5 1145.7 1233.4 1146.4 1230.4 1147.1 1227.3 1147.8 1224.3 1148.5 1221.3 1149.2 1218.4 1149.9 1215.4 1150.6 1212.5 1151.3 1209.6 1152.0 1206.7 1152.7 1203.8 1153.4 1201.0 1154.1 1198.2 1154.8 1195.4 1155.5 1192.6 1156.1 1189.9 1156.8 1187.1 1157.5 1184.4 1158.2 1181.8 1158.9 1179.1 1159.6 1176.5 1160.3 1173.9 1161.0 1171.4 1161.7 1168.8 1162.4 1166.3 1163.1 1163.8 1163.8 1161.4 1164.5 1159.0 1165.2 1156.6 1165.9 1154.2 1167.0 1150.5 1168.1 1146.7 1169.2 1142.9 1170.3 1139.1 1171.4 1135.3 1172.5 1131.5 1173.7 1127.7 1174.8 1123.8 1175.9 1120.0 1177.1 1116.1 1178.2 1112.2 1179.3 1108.3 1180.5 1104.4 1181.6 1100.5 1182.8 1096.6 1183.9 1092.7 1185.1 1088.8 1186.3 1084.9 1187.4 1081.0 1188.6 1077.1 1189.7 1073.2 1190.9 1069.3 1192.1 1065.3 1193.2 1061.4 1194.4 1057.5 1195.6 1053.6 1196.8 1049.8 1197.9 1045.9 1199.1 1042.0 1200.3 1038.2 1201.5 1034.3 1202.6 1030.5 1203.8 1026.6 1205.0 1022.8 1206.2 1019.0 1207.3 1015.3 1208.5 1011.5 1209.7 1007.8 1210.9 1004.0 1212.1 1000.3 1213.2 996.7 1214.4 993.0 1215.6 989.4 1216.8 985.8 1217.9 982.2 1219.1 978.6 1220.3 975.1 1221.4 971.6 1222.6 968.1 1223.8 964.7 1224.9 961.3 1226.1 957.9 1227.3 954.6 1228.4 951.3 1229.6 948.0 1230.7 944.8 1231.9 941.6 1233.0 938.4 1234.2 935.3 1235.3 932.2 1236.5 929.2 1237.6 926.2 1238.7 923.2 1239.9 920.3 1241.0 917.5 1242.1 914.7 1243.2 911.9 1244.4 909.2 1245.5 906.5 1246.6 903.9 1247.7 901.4 1248.8 898.9 1249.9 896.4 1251.0 894.0 1252.1 891.7 1253.1 889.4 1254.2 887.2 1255.3 885.0 1256.4 882.9 1257.4 880.9 1258.5 878.9 1259.5 877.0 1260.6 875.2 1261.6 873.4 1262.6 871.7 1263.7 870.0 1264.7 868.4 1265.7 866.9 1266.7 865.5 1267.7 864.1 1268.7 862.8 1269.7 861.6 1270.7 860.4 1271.7 859.4 1272.7 858.4 1273.6 857.5 1274.6 856.6 1275.5 855.9 1276.5 855.2 1277.4 854.6 1278.3 854.1 1279.2 853.7 1280.1 853.3 1281.0 853.1 1281.9 852.9 1282.8 852.8 1283.7 852.8 1284.6 852.9 1285.5 853.2 1286.3 853.5 1287.2 853.9 1288.0 854.5 1288.9 855.2 1289.7 855.9 1290.5 856.8 1291.4 857.7 1292.2 858.8 1293.0 860.0 1293.8 861.2 1294.6 862.6 1295.4 864.0 1296.2 865.6 1297.0 867.2 1297.7 868.9 1298.5 870.7 1299.3 872.6 1300.0 874.5 1300.8 876.6 1301.5 878.7 1302.3 880.9 1303.0 883.2 1303.8 885.5 1304.5 888.0 1305.2 890.4 1305.9 893.0 1306.6 895.6 1307.4 898.3 1308.1 901.1 1308.8 903.9 1309.4 906.8 1310.1 909.7 1310.8 912.7 1311.5 915.8 1312.2 918.9 1312.9 922.0 1313.5 925.2 1314.2 928.5 1314.8 931.8 1315.5 935.1 1316.2 938.5 1316.8 941.9 1317.5 945.4 1318.1 948.9 1318.7 952.5 1319.4 956.0 1320.0 959.7 1320.6 963.3 1321.2 967.0 1321.9 970.7 1322.5 974.4 1323.1 978.2 1323.7 982.0 1324.3 985.8 1324.9 989.6 1325.5 993.4 1326.1 997.3 1326.7 1001.1 1327.3 1005.0 1327.9 1008.9 1328.5 1012.8 1329.1 1016.7 1329.7 1020.6 1330.3 1024.6 1330.8 1028.5 1331.4 1032.4 1332.0 1036.3 1332.6 1040.3 1333.2 1044.2 1333.7 1048.1 1334.3 1052.0 1334.9 1055.9 1335.4 1059.8 1336.0 1063.7 1336.6 1067.5 1337.1 1071.4 1337.7 1075.2 1338.2 1079.0 1338.8 1082.8 1339.4 1086.6 1339.9 1090.3 1340.5 1094.0 1341.0 1097.7 1341.6 1101.4 1342.1 1105.0 1342.7 1108.6 1343.3 1112.2 1343.8 1115.7 1344.4 1119.2 1344.9 1122.7 1345.5 1126.1 1346.0 1129.4 1346.6 1132.8 1347.1 1136.0 1347.7 1139.3 1348.2 1142.5 1348.8 1145.6 1349.3 1148.7 1349.9 1151.7 1350.4 1154.7 1351.0 1157.6 1351.5 1160.4 1352.1 1163.2 1352.6 1165.9 1353.3 1169.2 1354.0 1172.5 1354.7 1175.8 1355.3 1179.1 1356.0 1182.4 1356.6 1185.7 1357.3 1189.0 1357.9 1192.4 1358.6 1195.7 1359.2 1199.0 1359.9 1202.4 1360.5 1205.7 1361.1 1209.0 1361.8 1212.3 1362.4 1215.7 1363.0 1219.0 1363.6 1222.3 1364.3 1225.7 1364.9 1229.0 1365.5 1232.3 1366.1 1235.7 1366.7 1239.0 1367.3 1242.3 1367.9 1245.6 1368.5 1248.9 1369.1 1252.2 1369.7 1255.5 1370.3 1258.8 1370.8 1262.1 1371.4 1265.4 1372.0 1268.6 1372.6 1271.9 1373.2 1275.2 1373.7 1278.4 1374.3 1281.6 1374.9 1284.9 1375.4 1288.1 1376.0 1291.3 1376.5 1294.5 1377.1 1297.6 1377.7 1300.8 1378.2 1303.9 1378.8 1307.1 1379.3 1310.2 1379.9 1313.3 1380.4 1316.4 1381.0 1319.5 1381.5 1322.5 1382.0 1325.6 1382.6 1328.6 1383.1 1331.6 1383.6 1334.6 1384.2 1337.6 1384.7 1340.5 1385.2 1343.5 1385.8 1346.4 1386.3 1349.3 1386.8 1352.1 1387.3 1355.0 1387.9 1357.8 1388.4 1360.6 1388.9 1363.4 1389.4 1366.2 1389.9 1368.9 1390.4 1371.6 1391.0 1374.3 1391.5 1376.9 1392.0 1379.6 1392.5 1382.2 1393.0 1384.7 1393.5 1387.3 1394.0 1389.8 1394.5 1392.3 1395.0 1394.8 1395.5 1397.2 1396.0 1399.6 1396.5 1402.0 1397.1 1404.3 1397.6 1406.6 1398.1 1408.9 1398.6 1411.1 1399.1 1413.3 1399.6 1415.5 1400.1 1417.7 1400.6 1419.8 1401.1 1421.8 1401.6 1423.9 1402.8 1429.0 1404.0 1433.9 1405.1 1438.5 1406.2 1442.7 1407.1 1446.8 1408.0 1450.5 1408.9 1454.1 1409.7 1457.4 1410.5 1460.5 1411.3 1463.5 1412.1 1466.3 1412.8 1468.9 1413.5 1471.4 1414.3 1473.8 1415.0 1476.1 1415.8 1478.2 1416.6 1480.3 1417.5 1482.4 1418.4 1484.4 1419.3 1486.4 1420.3 1488.4 1421.3 1490.4 1422.5 1492.4 1423.7 1494.4 1425.0 1496.5 1426.4 1498.7 1427.9 1500.9 1429.5 1503.3 1431.2 1505.7 1433.1 1508.3 1435.1 1511.1 1437.2 1514.0 1439.5 1517.0 1440.9 1519.0 1442.4 1521.0 1444.0 1523.0 1445.6 1525.1 1447.2 1527.2 1448.9 1529.3 1450.6 1531.5 1452.4 1533.7 1454.2 1536.0 1456.1 1538.2 1458.0 1540.5 1459.9 1542.9 1461.8 1545.2 1463.8 1547.6 1465.9 1550.0 1467.9 1552.4 1470.0 1554.8 1472.2 1557.2 1474.3 1559.7 1476.5 1562.1 1478.7 1564.6 1480.9 1567.0 1483.1 1569.5 1485.4 1571.9 1487.7 1574.4 1490.0 1576.8 1492.3 1579.2 1494.6 1581.6 1496.9 1584.0 1499.3 1586.4 1501.6 1588.8 1504.0 1591.1 1506.4 1593.4 1508.8 1595.7 1511.1 1598.0 1513.5 1600.2 1515.9 1602.4 1518.3 1604.6 1520.7 1606.7 1523.1 1608.8 1525.4 1610.8 1527.8 1612.8 1530.2 1614.8 1532.5 1616.7 1534.8 1618.5 1537.2 1620.3 1539.5 1622.0 1541.8 1623.7 1544.1 1625.4 1546.3 1626.9 1548.6 1628.4 1550.8 1629.8 1553.0 1631.2 1555.2 1632.5 1557.4 1633.7 1560.4 1635.3 1563.5 1636.7 1566.6 1638.1 1569.7 1639.3 1572.8 1640.4 1576.0 1641.4 1579.2 1642.4 1582.3 1643.2 1585.6 1643.9 1588.8 1644.6 1592.0 1645.1 1595.2 1645.6 1598.4 1646.0 1601.7 1646.4 1604.9 1646.7 1608.1 1646.9 1611.3 1647.1 1614.6 1647.2 1617.7 1647.2 1620.9 1647.3 1624.1 1647.3 1627.2 1647.2 1630.3 1647.1 1633.4 1647.0 1636.5 1646.9 1639.5 1646.8 1642.6 1646.6 1645.5 1646.5 1648.5 1646.3 1651.3 1646.2 1654.2 1646.1 1657.0 1645.9 1659.8 1645.8 1662.5 1645.7 1665.1 1645.7 1667.7 1645.6 1670.3 1645.6 1672.8 1645.6 1675.2 1645.7 1679.2 1645.8 1683.0 1645.9 1686.8 1645.9 1690.3 1645.9 1693.8 1645.8 1697.2 1645.7 1700.4 1645.6 1703.6 1645.4 1706.7 1645.1 1709.6 1644.9 1712.6 1644.6 1715.4 1644.3 1718.2 1644.0 1720.9 1643.7 1723.6 1643.4 1726.2 1643.1 1728.8 1642.8 1731.4 1642.5 1734.0 1642.2 1736.5 1641.9 1739.0 1641.7 1741.6 1641.5 1744.1 1641.3 1747.8 1641.4 1751.3 1642.1 1754.7 1643.3 1758.0 1644.8 1761.3 1646.6 1764.4 1648.3 1767.5 1650.0 1770.5 1651.5 1773.5 1652.5 1776.4 1653.1 1779.3 1653.0 1782.1 1652.1 1784.9 1650.2 1787.6 1647.2 1790.3 1643.0 1793.1 1637.5 1793.7 1635.9 1794.2 1634.2 1794.8 1632.4 1795.2 1630.5 1795.6 1628.5 1796.0 1626.4 1796.3 1624.2 1796.6 1621.9 1796.9 1619.5 1797.1 1617.0 1797.3 1614.5 1797.4 1611.8 1797.5 1609.1 1797.6 1606.3 1797.7 1603.4 1797.8 1600.5 1797.8 1597.5 1797.8 1594.4 1797.8 1591.3 1797.8 1588.1 1797.8 1584.9 1797.8 1581.6 1797.8 1578.3 1797.8 1575.0 1797.7 1571.6 1797.7 1568.1 1797.7 1564.7 1797.7 1561.2 1797.7 1557.7 1797.7 1554.1 1797.8 1550.6 1797.9 1547.0 1797.9 1543.4 1798.0 1539.8 1798.2 1536.2 1798.3 1532.7 1798.5 1529.1 1798.8 1525.5 1799.0 1521.9 1799.3 1518.4 1799.7 1514.8 1800.0 1511.3 1800.5 1507.8 1801.0 1504.3 1801.5 1500.9 1802.1 1497.5 1802.7 1494.1 1803.4 1490.7 1804.2 1487.5 1805.0 1484.2 1805.9 1481.0 1806.8 1477.9 1807.9 1474.8 1809.0 1471.8 1810.1 1468.8 1811.4 1465.9 1812.7 1463.1 1814.1 1460.3 1815.6 1457.6 1817.2 1455.1 1818.9 1452.5 1820.7 1450.1 1822.5 1447.8 1824.5 1445.5 1826.6 1443.4 1828.7 1441.3 1831.0 1439.4 1832.7 1438.1 1834.5 1436.8 1836.3 1435.5 1838.3 1434.3 1840.3 1433.2 1842.3 1432.1 1844.4 1431.0 1846.6 1430.0 1848.8 1429.0 1851.1 1428.0 1853.5 1427.1 1855.9 1426.2 1858.4 1425.4 1860.9 1424.6 1863.5 1423.8 1866.1 1423.0 1868.8 1422.3 1871.5 1421.6 1874.2 1421.0 1877.1 1420.3 1879.9 1419.7 1882.8 1419.2 1885.7 1418.6 1888.7 1418.1 1891.7 1417.6 1894.8 1417.1 1897.9 1416.7 1901.0 1416.2 1904.1 1415.8 1907.3 1415.4 1910.5 1415.0 1913.8 1414.7 1917.0 1414.3 1920.3 1414.0 1923.6 1413.7 1926.9 1413.4 1930.3 1413.1 1933.7 1412.8 1937.0 1412.5 1940.4 1412.3 1943.9 1412.0 1947.3 1411.7 1950.7 1411.5 1954.2 1411.3 1957.6 1411.0 1961.1 1410.8 1964.6 1410.6 1968.0 1410.3 1971.5 1410.1 1975.0 1409.9 1978.5 1409.6 1981.9 1409.4 1985.4 1409.1 1988.9 1408.9 1992.3 1408.6 1995.8 1408.4 1999.2 1408.1 2002.7 1407.8 2006.1 1407.5 2009.5 1407.2 2012.9 1406.9 2016.2 1406.6 2019.6 1406.3 2022.9 1405.9 2026.2 1405.5 2029.5 1405.1 2032.8 1404.7 2036.1 1404.3 2039.3 1403.9 2042.5 1403.4 2045.6 1402.9 2048.7 1402.4 2051.8 1401.9 2054.9 1401.3 2057.9 1400.7 2060.9 1400.1 2063.9 1399.5 2066.8 1398.8 2069.6 1398.1 2072.5 1397.4 2075.3 1396.6 2078.0 1395.8 2080.7 1395.0 2083.3 1394.1 2085.9 1393.2 2088.4 1392.3 2090.9 1391.3 2093.4 1390.3 2095.7 1389.2 2098.1 1388.1 2100.3 1387.0 2102.5 1385.8 2104.6 1384.6 2107.4 1382.8 2110.1 1380.9 2112.8 1378.9 2115.3 1376.6 2117.9 1374.2 2120.3 1371.7 2122.7 1369.0 2125.1 1366.2 2127.4 1363.3 2129.7 1360.3 2131.9 1357.1 2134.0 1353.9 2136.1 1350.5 2138.2 1347.1 2140.2 1343.5 2142.2 1339.9 2144.1 1336.2 2146.0 1332.5 2147.9 1328.7 2149.7 1324.8 2151.5 1320.9 2153.2 1317.0 2154.9 1313.0 2156.6 1309.0 2158.2 1304.9 2159.9 1300.9 2161.4 1296.8 2163.0 1292.8 2164.5 1288.7 2166.1 1284.7 2167.5 1280.7 2169.0 1276.7 2170.5 1272.7 2171.9 1268.8 2173.3 1264.9 2174.7 1261.1 2176.1 1257.3 2177.5 1253.6 2178.8 1250.0 2180.2 1246.4 2181.5 1242.9 2182.8 1239.6 2184.2 1236.3 2185.5 1233.1 2186.8 1230.0 2188.1 1227.0 2189.4 1224.2 2190.7 1221.5 2192.1 1218.9 2193.4 1216.5 2194.7 1214.2 2196.0 1212.1 2197.4 1210.1 2198.7 1208.3 2200.1 1206.7 2201.4 1205.3 2202.8 1204.0 2204.2 1202.9 2205.6 1202.1 2207.0 1201.4 2208.5 1201.0 2209.9 1200.8 2211.4 1200.8 2212.9 1201.0 2214.5 1201.5 2216.0 1202.2 2217.6 1203.2 2219.2 1204.5 2220.8 1206.0 2222.5 1207.8 2223.3 1208.7 2224.1 1209.7 2224.9 1210.8 2225.7 1212.0 2226.5 1213.3 2227.3 1214.6 2228.1 1216.1 2229.0 1217.6 2229.8 1219.2 2230.7 1220.9 2231.5 1222.6 2232.4 1224.5 2233.3 1226.4 2234.2 1228.4 2235.1 1230.5 2236.0 1232.6 2236.9 1234.8 2237.8 1237.1 2238.7 1239.4 2239.7 1241.8 2240.6 1244.3 2241.5 1246.9 2242.5 1249.5 2243.4 1252.2 2244.4 1254.9 2245.4 1257.7 2246.3 1260.5 2247.3 1263.4 2248.3 1266.4 2249.3 1269.4 2250.2 1272.5 2251.2 1275.6 2252.2 1278.8 2253.2 1282.0 2254.2 1285.3 2255.2 1288.6 2256.2 1291.9 2257.2 1295.3 2258.2 1298.8 2259.3 1302.3 2260.3 1305.8 2261.3 1309.4 2262.3 1313.0 2263.3 1316.6 2264.4 1320.3 2265.4 1324.0 2266.4 1327.8 2267.4 1331.6 2268.5 1335.4 2269.5 1339.2 2270.5 1343.1 2271.5 1347.0 2272.6 1350.9 2273.6 1354.8 2274.6 1358.8 2275.6 1362.8 2276.7 1366.8 2277.7 1370.8 2278.7 1374.9 2279.7 1378.9 2280.8 1383.0 2281.8 1387.1 2282.8 1391.2 2283.8 1395.3 2284.8 1399.4 2285.8 1403.6 2286.8 1407.7 2287.8 1411.8 2288.8 1416.0 2289.8 1420.1 2290.8 1424.3 2291.8 1428.5 2292.8 1432.6 2293.7 1436.8 2294.7 1440.9 2295.7 1445.1 2296.6 1449.2 2297.6 1453.4 2298.5 1457.5 2299.5 1461.6 2300.4 1465.7 2301.4 1469.8 2302.3 1473.9 2303.2 1478.0 2304.1 1482.1 2305.0 1486.1 2306.0 1490.1 2306.8 1494.1 2307.7 1498.1 2308.6 1502.1 2309.5 1506.0 2310.4 1509.9 2311.2 1513.8 2312.1 1517.7 2312.9 1521.5 2313.7 1525.3 2314.6 1529.1 2315.4 1532.9 2316.2 1536.6 2317.0 1540.3 2317.8 1543.9 2318.5 1547.5 2319.3 1551.1 2320.0 1554.6 2320.8 1558.1 2321.5 1561.5 2322.3 1564.9 2323.0 1568.3 2323.7 1571.6 2324.4 1574.9 2325.0 1578.1 2325.7 1581.3 2326.3 1584.4 2327.0 1587.5 2327.6 1590.5 2328.2 1593.4 2328.8 1596.3 2329.4 1599.2 2330.0 1602.0 2330.6 1604.7 2331.1 1607.4 2331.7 1610.0 2332.2 1612.5 2332.7 1615.0 2333.2 1617.4 2333.7 1619.7 2334.1 1622.0 2334.6 1624.2 2335.0 1626.4 2335.4 1628.4 2335.8 1630.4 2336.2 1632.3 2336.6 1634.2 2336.9 1635.9 2337.3 1637.6 2337.6 1639.2 2337.9 1640.7 2338.2 1642.2 2338.5 1643.5 2338.7 1644.8 2339.0 1646.0 2339.2 1647.1 2339.4 1648.1 2339.6 1649.0 2339.7 1649.8 2339.9 1650.6 2340.0 1651.2 2340.1 1651.7 2340.2 1652.2 2340.3 1652.5 2340.3 1652.8 2340.3 1652.9 2340.4 1653.0" fill="none" stroke="#0000FF" stroke-width="10" stroke-linejoin="round" stroke-linecap="round"/>
<g fill="#0000FF"><path d="M265.0 1623.5L290.4 1667.8L239.6 1667.8Z"/><path d="M382.9 1623.5L408.3 1667.8L357.5 1667.8Z"/><path d="M538.6 1623.5L564.0 1667.8L513.2 1667.8Z"/><path d="M656.5 1623.5L681.9 1667.8L631.1 1667.8Z"/><path d="M774.4 1623.5L799.8 1667.8L749.0 1667.8Z"/><path d="M930.1 1623.5L955.5 1667.8L904.7 1667.8Z"/><path d="M1048.0 1621.3L1073.4 1665.6L1022.6 1665.6Z"/><path d="M1165.9 1124.7L1191.3 1169.0L1140.5 1169.0Z"/><path d="M1283.7 823.3L1309.1 867.6L1258.3 867.6Z"/><path d="M1352.6 1136.4L1378.0 1180.7L1327.2 1180.7Z"/><path d="M1401.6 1394.4L1427.0 1438.7L1376.2 1438.7Z"/><path d="M1439.5 1487.5L1464.9 1531.8L1414.1 1531.8Z"/><path d="M1557.4 1604.2L1582.8 1648.5L1532.0 1648.5Z"/><path d="M1675.2 1616.2L1700.6 1660.5L1649.8 1660.5Z"/><path d="M1744.1 1611.8L1769.5 1656.1L1718.7 1656.1Z"/><path d="M1793.1 1608.0L1818.5 1652.3L1767.7 1652.3Z"/><path d="M1831.0 1409.9L1856.4 1454.2L1805.6 1454.2Z"/><path d="M2104.6 1355.1L2130.0 1399.4L2079.2 1399.4Z"/><path d="M2222.5 1178.3L2247.9 1222.6L2197.1 1222.6Z"/><path d="M2340.4 1623.5L2365.8 1667.8L2315.0 1667.8Z"/></g>
<path d="M265.0 1653.0 L268.0 1653.0 271.0 1653.0 274.1 1653.0 277.1 1653.0 280.1 1653.0 283.1 1653.0 286.2 1653.0 289.2 1653.0 292.2 1653.0 295.2 1653.0 298.2 1653.0 301.3 1653.0 304.3 1653.0 307.3 1653.0 310.3 1653.0 313.4 1653.0 316.4 1653.0 319.4 1653.0 322.4 1653.0 325.4 1653.0 328.5 1653.0 331.5 1653.0 334.5 1653.0 337.5 1653.0 340.5 1653.0 343.6 1653.0 346.6 1653.0 349.6 1653.0 352.6 1653.0 355.7 1653.0 358.7 1653.0 361.7 1653.0 364.7 1653.0 367.7 1653.0 370.8 1653.0 373.8 1653.0 376.8 1653.0 379.8 1653.0 382.9 1653.0 385.9 1653.0 389.0 1653.0 392.0 1653.0 395.1 1653.0 398.1 1653.0 401.2 1653.0 404.2 1653.0 407.3 1653.0 410.3 1653.0 413.4 1653.0 416.5 1653.0 419.5 1653.0 422.6 1653.0 425.6 1653.0 428.7 1653.0 431.7 1653.0 434.8 1653.0 437.8 1653.0 440.9 1653.0 443.9 1653.0 447.0 1653.0 450.1 1653.0 453.1 1653.0 456.2 1653.0 459.2 1653.0 462.3 1653.0 465.3 1653.0 468.4 1653.0 471.4 1653.0 474.5 1653.0 477.6 1653.0 480.6 1653.0 483.7 1653.0 486.7 1653.0 489.8 1653.0 492.8 1653.0 495.9 1653.0 498.9 1653.0 502.0 1653.0 505.0 1653.0 508.1 1653.0 511.2 1653.0 514.2 1653.0 517.3 1653.0 520.3 1653.0 523.4 1653.0 526.4 1653.0 529.5 1653.0 532.5 1653.0 535.6 1653.0 538.6 1653.0 541.7 1653.0 544.7 1653.0 547.7 1653.0 550.7 1653.0 553.8 1653.0 556.8 1653.0 559.8 1653.0 562.8 1653.0 565.8 1653.0 568.9 1653.0 571.9 1653.0 574.9 1653.0 577.9 1653.0 581.0 1653.0 584.0 1653.0 587.0 1653.0 590.0 1653.0 593.0 1653.0 596.1 1653.0 599.1 1653.0 602.1 1653.0 605.1 1653.0 608.1 1653.0 611.2 1653.0 614.2 1653.0 617.2 1653.0 620.2 1653.0 623.3 1653.0 626.3 1653.0 629.3 1653.0 632.3 1653.0 635.3 1653.0 638.4 1653.0 641.4 1653.0 644.4 1653.0 647.4 1653.0 650.5 1653.0 653.5 1653.0 656.5 1653.0 659.5 1653.0 662.5 1653.0 665.6 1653.0 668.6 1653.0 671.6 1653.0 674.6 1653.0 677.7 1653.0 680.7 1653.0 683.7 1653.0 686.7 1653.0 689.7 1653.0 692.8 1653.0 695.8 1653.0 698.8 1653.0 701.8 1653.0 704.9 1653.0 707.9 1653.0 710.9 1653.0 713.9 1653.0 716.9 1653.0 720.0 1653.0 723.0 1653.0 726.0 1653.0 729.0 1653.0 732.0 1653.0 735.1 1653.0 738.1 1653.0 741.1 1653.0 744.1 1653.0 747.2 1653.0 750.2 1653.0 753.2 1653.0 756.2 1653.0 759.2 1653.0 762.3 1653.0 765.3 1653.0 768.3 1653.0 771.3 1653.0 774.4 1653.0 777.4 1653.0 780.5 1653.0 783.5 1653.0 786.6 1653.0 789.6 1653.0 792.7 1653.0 795.7 1653.0 798.8 1653.0 801.8 1653.0 804.9 1653.0 808.0 1653.0 811.0 1653.0 814.1 1653.0 817.1 1653.0 820.2 1653.0 823.2 1653.0 826.3 1653.0 829.3 1653.0 832.4 1653.0 835.4 1653.0 838.5 1653.0 841.6 1653.0 844.6 1653.0 847.7 1653.0 850.7 1653.0 853.8 1653.0 856.8 1653.0 859.9 1653.0 862.9 1653.0 866.0 1653.0 869.1 1653.0 872.1 1653.0 875.2 1653.0 878.2 1653.0 881.3 1653.0 884.3 1653.0 887.4 1653.0 890.4 1653.0 893.5 1653.0 896.5 1653.0 899.6 1653.0 902.7 1653.0 905.7 1653.0 908.8 1653.0 911.8 1653.0 914.9 1653.0 917.9 1653.0 921.0 1653.0 924.0 1653.0 927.1 1653.0 930.1 1653.0 933.2 1653.0 936.2 1653.0 939.2 1653.0 942.2 1653.0 945.3 1653.0 948.3 1653.0 951.3 1653.0 954.3 1653.0 957.3 1653.0 960.4 1652.9 963.4 1652.9 966.4 1652.9 969.4 1652.9 972.5 1652.8 975.5 1652.8 978.5 1652.8 981.5 1652.7 984.5 1652.6 987.6 1652.6 990.6 1652.5 993.6 1652.4 996.6 1652.3 999.6 1652.2 1002.7 1652.1 1005.7 1652.0 1008.7 1651.9 1011.7 1651.8 1014.8 1651.6 1017.8 1651.5 1020.8 1651.3 1023.8 1651.1 1026.8 1650.9 1029.9 1650.7 1032.9 1650.5 1035.9 1650.3 1038.9 1650.0 1042.0 1649.8 1045.0 1649.5 1048.0 1649.2 1051.0 1648.5 1054.0 1647.0 1057.1 1644.9 1060.1 1642.0 1063.1 1638.4 1066.1 1634.2 1069.2 1629.4 1072.2 1624.1 1075.2 1618.2 1078.2 1611.8 1081.2 1605.0 1084.3 1597.7 1087.3 1590.0 1090.3 1582.0 1093.3 1573.6 1096.4 1565.0 1099.4 1556.0 1102.4 1546.9 1105.4 1537.5 1108.4 1528.0 1111.5 1518.4 1114.5 1508.7 1117.5 1498.9 1120.5 1489.1 1123.5 1479.3 1126.6 1469.5 1129.6 1459.8 1132.6 1450.2 1135.6 1440.8 1138.7 1431.5 1141.7 1422.4 1144.7 1413.6 1147.7 1405.1 1150.7 1396.8 1153.8 1388.9 1156.8 1381.4 1159.8 1374.3 1162.8 1367.6 1165.9 1361.5 1168.9 1355.4 1171.9 1349.2 1174.9 1342.8 1177.9 1336.2 1181.0 1329.5 1184.0 1322.8 1187.0 1315.9 1190.0 1309.0 1193.1 1302.1 1196.1 1295.2 1199.1 1288.3 1202.1 1281.5 1205.1 1274.8 1208.2 1268.1 1211.2 1261.6 1214.2 1255.3 1217.2 1249.1 1220.2 1243.1 1223.3 1237.4 1226.3 1231.9 1229.3 1226.6 1232.3 1221.7 1235.4 1217.1 1238.4 1212.9 1241.4 1209.1 1244.4 1205.6 1247.4 1202.6 1250.5 1200.0 1253.5 1197.9 1256.5 1196.3 1259.5 1195.2 1262.6 1194.7 1265.6 1194.8 1268.6 1195.5 1271.6 1196.8 1274.6 1198.7 1277.7 1201.3 1280.7 1204.7 1283.7 1208.7 1286.8 1213.5 1290.0 1218.5 1293.1 1223.9 1296.2 1229.5 1299.4 1235.3 1302.5 1241.4 1305.6 1247.7 1308.8 1254.1 1311.9 1260.7 1315.0 1267.5 1318.2 1274.3 1321.3 1281.3 1324.4 1288.4 1327.6 1295.4 1330.7 1302.6 1333.8 1309.7 1337.0 1316.8 1340.1 1323.9 1343.2 1331.0 1346.4 1338.0 1349.5 1344.9 1352.6 1351.6 1355.7 1358.3 1358.8 1365.2 1361.8 1372.2 1364.9 1379.4 1367.9 1386.7 1371.0 1394.1 1374.0 1401.6 1377.1 1409.0 1380.2 1416.5 1383.2 1423.9 1386.3 1431.2 1389.3 1438.4 1392.4 1445.5 1395.4 1452.3 1398.5 1459.0 1401.6 1465.4 1404.7 1465.4 1407.9 1454.0 1411.0 1433.3 1414.2 1405.5 1417.4 1373.0 1420.5 1337.9 1423.7 1302.4 1426.9 1268.8 1430.0 1239.3 1433.2 1216.0 1436.3 1201.3 1439.5 1197.3 1442.5 1199.4 1445.5 1201.5 1448.6 1203.8 1451.6 1206.2 1454.6 1208.7 1457.6 1211.3 1460.7 1214.0 1463.7 1216.9 1466.7 1219.8 1469.7 1222.8 1472.7 1225.9 1475.8 1229.2 1478.8 1232.6 1481.8 1236.0 1484.8 1239.6 1487.9 1243.3 1490.9 1247.0 1493.9 1250.9 1496.9 1254.9 1499.9 1259.0 1503.0 1263.3 1506.0 1267.6 1509.0 1272.0 1512.0 1276.6 1515.0 1281.2 1518.1 1286.0 1521.1 1290.8 1524.1 1295.8 1527.1 1300.9 1530.2 1306.1 1533.2 1311.4 1536.2 1316.8 1539.2 1322.3 1542.2 1327.9 1545.3 1333.6 1548.3 1339.5 1551.3 1345.4 1554.3 1351.5 1557.4 1357.6 1560.4 1364.0 1563.4 1370.5 1566.4 1377.2 1569.4 1384.0 1572.5 1391.0 1575.5 1398.1 1578.5 1405.4 1581.5 1412.7 1584.6 1420.1 1587.6 1427.7 1590.6 1435.2 1593.6 1442.9 1596.6 1450.5 1599.7 1458.2 1602.7 1465.9 1605.7 1473.6 1608.7 1481.3 1611.7 1488.9 1614.8 1496.5 1617.8 1504.0 1620.8 1511.5 1623.8 1518.9 1626.9 1526.1 1629.9 1533.3 1632.9 1540.3 1635.9 1547.2 1638.9 1553.9 1642.0 1560.4 1645.0 1566.8 1648.0 1573.0 1651.0 1578.9 1654.1 1584.6 1657.1 1590.1 1660.1 1595.3 1663.1 1600.3 1666.1 1605.0 1669.2 1609.4 1672.2 1613.4 1675.2 1617.2 1678.3 1620.7 1681.5 1623.9 1684.6 1626.8 1687.7 1629.4 1690.9 1631.7 1694.0 1633.7 1697.1 1635.6 1700.3 1637.2 1703.4 1638.6 1706.5 1639.9 1709.7 1641.0 1712.8 1641.9 1715.9 1642.8 1719.1 1643.6 1722.2 1644.4 1725.3 1645.1 1728.5 1645.8 1731.6 1646.5 1734.7 1647.2 1737.9 1648.0 1741.0 1648.9 1744.1 1649.8 1747.2 1650.7 1750.3 1651.5 1753.3 1652.2 1756.4 1652.6 1759.4 1652.9 1762.5 1653.1 1765.5 1653.1 1768.6 1652.9 1771.7 1652.5 1774.7 1651.9 1777.8 1651.2 1780.8 1650.2 1783.9 1649.0 1786.9 1647.6 1790.0 1646.0 1793.1 1644.1 1796.2 1639.1 1799.4 1628.9 1802.5 1614.4 1805.7 1596.5 1808.9 1576.3 1812.0 1554.8 1815.2 1532.8 1818.4 1511.4 1821.5 1491.5 1824.7 1474.2 1827.8 1460.3 1831.0 1450.8 1834.0 1444.4 1837.0 1438.4 1840.0 1432.7 1843.0 1427.3 1846.0 1422.3 1849.0 1417.5 1852.0 1413.1 1855.1 1409.0 1858.1 1405.2 1861.1 1401.6 1864.1 1398.4 1867.1 1395.4 1870.1 1392.7 1873.1 1390.3 1876.1 1388.1 1879.1 1386.1 1882.1 1384.4 1885.1 1383.0 1888.1 1381.7 1891.1 1380.7 1894.1 1379.9 1897.2 1379.2 1900.2 1378.8 1903.2 1378.6 1906.2 1378.5 1909.2 1378.7 1912.2 1378.9 1915.2 1379.4 1918.2 1380.0 1921.2 1380.8 1924.2 1381.6 1927.2 1382.7 1930.2 1383.8 1933.2 1385.1 1936.2 1386.4 1939.3 1387.9 1942.3 1389.5 1945.3 1391.1 1948.3 1392.9 1951.3 1394.7 1954.3 1396.6 1957.3 1398.5 1960.3 1400.5 1963.3 1402.6 1966.3 1404.6 1969.3 1406.7 1972.3 1408.9 1975.3 1411.0 1978.3 1413.2 1981.4 1415.3 1984.4 1417.5 1987.4 1419.6 1990.4 1421.8 1993.4 1423.9 1996.4 1425.9 1999.4 1428.0 2002.4 1429.9 2005.4 1431.9 2008.4 1433.7 2011.4 1435.5 2014.4 1437.2 2017.4 1438.9 2020.4 1440.4 2023.5 1441.8 2026.5 1443.2 2029.5 1444.4 2032.5 1445.5 2035.5 1446.5 2038.5 1447.3 2041.5 1448.0 2044.5 1448.6 2047.5 1449.0 2050.5 1449.2 2053.5 1449.3 2056.5 1449.2 2059.5 1448.9 2062.5 1448.4 2065.6 1447.7 2068.6 1446.8 2071.6 1445.7 2074.6 1444.4 2077.6 1442.9 2080.6 1441.1 2083.6 1439.1 2086.6 1436.8 2089.6 1434.3 2092.6 1431.5 2095.6 1428.4 2098.6 1425.1 2101.6 1421.5 2104.6 1417.5 2107.7 1412.8 2110.7 1406.6 2113.7 1399.2 2116.7 1390.6 2119.8 1380.9 2122.8 1370.2 2125.8 1358.6 2128.8 1346.1 2131.8 1332.8 2134.9 1318.9 2137.9 1304.3 2140.9 1289.3 2143.9 1273.7 2147.0 1257.9 2150.0 1241.7 2153.0 1225.4 2156.0 1208.9 2159.0 1192.5 2162.1 1176.1 2165.1 1159.8 2168.1 1143.7 2171.1 1128.0 2174.1 1112.6 2177.2 1097.8 2180.2 1083.4 2183.2 1069.7 2186.2 1056.8 2189.3 1044.6 2192.3 1033.3 2195.3 1023.0 2198.3 1013.8 2201.3 1005.6 2204.4 998.7 2207.4 993.1 2210.4 988.9 2213.4 986.2 2216.5 984.9 2219.5 985.4 2222.5 987.5 2225.5 990.8 2228.5 994.6 2231.6 999.0 2234.6 1004.0 2237.6 1009.6 2240.6 1015.8 2243.7 1022.5 2246.7 1030.0 2249.7 1038.0 2252.7 1046.8 2255.7 1056.2 2258.8 1066.3 2261.8 1077.1 2264.8 1088.6 2267.8 1100.9 2270.9 1113.9 2273.9 1127.7 2276.9 1142.3 2279.9 1157.6 2282.9 1173.8 2286.0 1190.7 2289.0 1208.5 2292.0 1227.2 2295.0 1246.7 2298.0 1267.1 2301.1 1288.4 2304.1 1310.6 2307.1 1333.7 2310.1 1357.8 2313.2 1382.8 2316.2 1408.8 2319.2 1435.7 2322.2 1463.7 2325.2 1492.6 2328.3 1522.6 2331.3 1553.6 2334.3 1585.7 2337.3 1618.8 2340.4 1653.0" fill="none" stroke="#008000" stroke-width="10" stroke-linejoin="round" stroke-linecap="round"/>
<g fill="#008000"><path d="M265.0 1629.4L259.7 1645.7L242.6 1645.7L256.4 1655.8L251.1 1672.1L265.0 1662.0L278.9 1672.1L273.6 1655.8L287.4 1645.7L270.3 1645.7Z" stroke="#008000" stroke-width="4" stroke-linejoin="bevel"/><path d="M382.9 1629.4L377.6 1645.7L360.4 1645.7L374.3 1655.8L369.0 1672.1L382.9 1662.0L396.7 1672.1L391.4 1655.8L405.3 1645.7L388.2 1645.7Z" stroke="#008000" stroke-width="4" stroke-linejoin="bevel"/><path d="M538.6 1629.4L533.3 1645.7L516.2 1645.7L530.1 1655.8L524.8 1672.1L538.6 1662.0L552.5 1672.1L547.2 1655.8L561.1 1645.7L543.9 1645.7Z" stroke="#008000" stroke-width="4" stroke-linejoin="bevel"/><path d="M656.5 1629.4L651.2 1645.7L634.1 1645.7L647.9 1655.8L642.6 1672.1L656.5 1662.0L670.4 1672.1L665.1 1655.8L678.9 1645.7L661.8 1645.7Z" stroke="#008000" stroke-width="4" stroke-linejoin="bevel"/><path d="M774.4 1629.4L769.1 1645.7L751.9 1645.7L765.8 1655.8L760.5 1672.1L774.4 1662.0L788.2 1672.1L782.9 1655.8L796.8 1645.7L779.7 1645.7Z" stroke="#008000" stroke-width="4" stroke-linejoin="bevel"/><path d="M930.1 1629.4L924.8 1645.7L907.7 1645.7L921.6 1655.8L916.3 1672.1L930.1 1662.0L944.0 1672.1L938.7 1655.8L952.6 1645.7L935.4 1645.7Z" stroke="#008000" stroke-width="4" stroke-linejoin="bevel"/><path d="M1048.0 1625.6L1042.7 1641.9L1025.6 1641.9L1039.4 1652.0L1034.1 1668.3L1048.0 1658.2L1061.9 1668.3L1056.6 1652.0L1070.4 1641.9L1053.3 1641.9Z" stroke="#008000" stroke-width="4" stroke-linejoin="bevel"/><path d="M1165.9 1337.9L1160.6 1354.2L1143.4 1354.2L1157.3 1364.2L1152.0 1380.5L1165.9 1370.5L1179.7 1380.5L1174.4 1364.2L1188.3 1354.2L1171.2 1354.2Z" stroke="#008000" stroke-width="4" stroke-linejoin="bevel"/><path d="M1283.7 1185.1L1278.4 1201.4L1261.3 1201.4L1275.1 1211.5L1269.8 1227.8L1283.7 1217.7L1297.6 1227.8L1292.3 1211.5L1306.2 1201.4L1289.0 1201.4Z" stroke="#008000" stroke-width="4" stroke-linejoin="bevel"/><path d="M1352.6 1328.0L1347.3 1344.3L1330.2 1344.3L1344.1 1354.4L1338.8 1370.7L1352.6 1360.6L1366.5 1370.7L1361.2 1354.4L1375.1 1344.3L1357.9 1344.3Z" stroke="#008000" stroke-width="4" stroke-linejoin="bevel"/><path d="M1401.6 1441.8L1396.3 1458.1L1379.1 1458.1L1393.0 1468.2L1387.7 1484.5L1401.6 1474.4L1415.4 1484.5L1410.1 1468.2L1424.0 1458.1L1406.9 1458.1Z" stroke="#008000" stroke-width="4" stroke-linejoin="bevel"/><path d="M1439.5 1173.7L1434.2 1190.0L1417.1 1190.0L1430.9 1200.1L1425.6 1216.4L1439.5 1206.3L1453.4 1216.4L1448.1 1200.1L1461.9 1190.0L1444.8 1190.0Z" stroke="#008000" stroke-width="4" stroke-linejoin="bevel"/><path d="M1557.4 1334.0L1552.1 1350.4L1534.9 1350.4L1548.8 1360.4L1543.5 1376.7L1557.4 1366.7L1571.2 1376.7L1565.9 1360.4L1579.8 1350.4L1562.7 1350.4Z" stroke="#008000" stroke-width="4" stroke-linejoin="bevel"/><path d="M1675.2 1593.6L1669.9 1609.9L1652.8 1609.9L1666.6 1620.0L1661.3 1636.3L1675.2 1626.2L1689.1 1636.3L1683.8 1620.0L1697.7 1609.9L1680.5 1609.9Z" stroke="#008000" stroke-width="4" stroke-linejoin="bevel"/><path d="M1744.1 1626.2L1738.8 1642.5L1721.7 1642.5L1735.6 1652.6L1730.3 1668.9L1744.1 1658.8L1758.0 1668.9L1752.7 1652.6L1766.6 1642.5L1749.4 1642.5Z" stroke="#008000" stroke-width="4" stroke-linejoin="bevel"/><path d="M1793.1 1620.5L1787.8 1636.8L1770.6 1636.8L1784.5 1646.9L1779.2 1663.2L1793.1 1653.1L1806.9 1663.2L1801.6 1646.9L1815.5 1636.8L1798.4 1636.8Z" stroke="#008000" stroke-width="4" stroke-linejoin="bevel"/><path d="M1831.0 1427.2L1825.7 1443.5L1808.6 1443.5L1822.4 1453.6L1817.1 1469.9L1831.0 1459.8L1844.9 1469.9L1839.6 1453.6L1853.4 1443.5L1836.3 1443.5Z" stroke="#008000" stroke-width="4" stroke-linejoin="bevel"/><path d="M2104.6 1393.9L2099.3 1410.2L2082.2 1410.3L2096.1 1420.3L2090.8 1436.6L2104.6 1426.6L2118.5 1436.6L2113.2 1420.3L2127.1 1410.3L2109.9 1410.2Z" stroke="#008000" stroke-width="4" stroke-linejoin="bevel"/><path d="M2222.5 963.9L2217.2 980.2L2200.1 980.2L2213.9 990.3L2208.6 1006.6L2222.5 996.5L2236.4 1006.6L2231.1 990.3L2244.9 980.2L2227.8 980.2Z" stroke="#008000" stroke-width="4" stroke-linejoin="bevel"/><path d="M2340.4 1629.4L2335.1 1645.7L2317.9 1645.7L2331.8 1655.8L2326.5 1672.1L2340.4 1662.0L2354.2 1672.1L2348.9 1655.8L2362.8 1645.7L2345.7 1645.7Z" stroke="#008000" stroke-width="4" stroke-linejoin="bevel"/></g>
</g>
<text x="228" y="1679.6" font-size="90" text-anchor="end">0</text>
<text x="228" y="1362.7" font-size="90" text-anchor="end">10</text>
<text x="228" y="1045.8" font-size="90" text-anchor="end">20</text>
<text x="228" y="728.9" font-size="90" text-anchor="end">30</text>
<text x="228" y="412.0" font-size="90" text-anchor="end">40</text>
<text x="228" y="95.1" font-size="90" text-anchor="end">50</text>
<text x="262.0" y="1886" font-size="90" text-anchor="middle">0.01</text>
<text x="653.0" y="1886" font-size="90" text-anchor="middle">0.1</text>
<text x="1046.0" y="1886" font-size="90" text-anchor="middle">1</text>
<text x="1439.5" y="1886" font-size="90" text-anchor="middle">10</text>
<text x="1831.0" y="1886" font-size="90" text-anchor="middle">100</text>
<text x="2222.5" y="1886" font-size="90" text-anchor="middle">1000</text>
<text x="1328" y="2047" font-size="105" text-anchor="middle">Diameter/μm</text>
<text transform="translate(98 926) rotate(-90)" x="0" y="0" font-size="105" text-anchor="middle">Percantage/%</text>
<rect x="1921.5" y="159.7" width="364" height="407.8" fill="#fff" stroke="#000" stroke-width="3"/>
<path d="M1932.5 214.5H1996.5M2050 214.5H2113.5" stroke="#000000" stroke-width="9" stroke-linecap="round" fill="none"/>
<g fill="#505050"><rect x="2005.0" y="195.4" width="38.2" height="38.2"/></g>
<text x="2132" y="242.1" font-size="82">0 h</text>
<path d="M1932.5 313.9H1996.5M2050 313.9H2113.5" stroke="#FF0000" stroke-width="9" stroke-linecap="round" fill="none"/>
<g fill="#EF4040"><circle cx="2023.3" cy="313.9" r="21.8"/></g>
<text x="2132" y="341.5" font-size="82">24 h</text>
<path d="M1932.5 413.2H1996.5M2050 413.2H2113.5" stroke="#0000FF" stroke-width="9" stroke-linecap="round" fill="none"/>
<g fill="#0000FF"><path d="M2023.3 383.7L2048.7 428.0L1997.9 428.0Z"/></g>
<text x="2132" y="440.8" font-size="82">48 h</text>
<path d="M1932.5 512.5H1996.5M2050 512.5H2113.5" stroke="#008000" stroke-width="9" stroke-linecap="round" fill="none"/>
<g fill="#008000"><path d="M2023.3 488.9L2018.0 505.3L2000.9 505.3L2014.7 515.3L2009.4 531.6L2023.3 521.6L2037.2 531.6L2031.9 515.3L2045.7 505.3L2028.6 505.3Z" stroke="#008000" stroke-width="4" stroke-linejoin="bevel"/></g>
<text x="2132" y="540.1" font-size="82">72 h</text>
</svg>
</body></html>
